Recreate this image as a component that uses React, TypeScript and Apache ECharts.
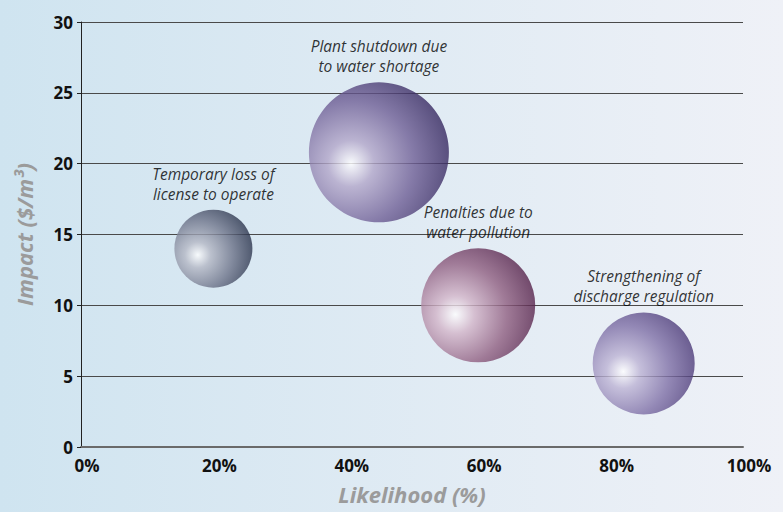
import React, { useEffect, useRef } from "react";
import * as echarts from "echarts";

const riskNames = [
  "Temporary loss of\nlicense to operate",
  "Plant shutdown due\nto water shortage",
  "Penalties due to\nwater pollution",
  "Strengthening of\ndischarge regulation",
];
const likelihood = [20, 45, 60, 85];
const impact = [14, 20.8, 10, 5.9];
const magnitude = [3.9, 7.0, 5.7, 5.1];
const xTicks = ["0%", "20%", "40%", "60%", "80%", "100%"];

const palette = [
  { light: "#b4b7c4", mid: "#6c7288", edge: "#222b44" },
  { light: "#b2a6c9", mid: "#6e5e95", edge: "#2e2058" },
  { light: "#d2b4c8", mid: "#8f5e80", edge: "#4e1a43" },
  { light: "#bcb3d4", mid: "#7e6fa6", edge: "#453372" },
];

export default function App() {
  const ref = useRef<HTMLDivElement>(null);
  useEffect(() => {
    if (!ref.current) return;
    const chart = echarts.init(ref.current, null, { renderer: "svg" });
    const data = likelihood.map((x, i) => ({
      value: [x, impact[i], magnitude[i]],
      name: riskNames[i],
      itemStyle: {
        color: new echarts.graphic.RadialGradient(0.3, 0.58, 0.75, [
          { offset: 0, color: "#ffffff" },
          { offset: 0.22, color: palette[i].light },
          { offset: 0.6, color: palette[i].mid },
          { offset: 1, color: palette[i].edge },
        ]),
      },
    }));
    const nameStyle = {
      fontFamily: "Open Sans",
      fontSize: 22,
      fontWeight: "bold",
      fontStyle: "italic",
      color: "#9b9b9b",
    };
    chart.setOption({
      animation: false,
      backgroundColor: new echarts.graphic.LinearGradient(0, 0, 1, 0, [
        { offset: 0, color: "#cfe4f0" },
        { offset: 1, color: "#eff1f7" },
      ]),
      grid: { left: 81, right: 40, top: 22, bottom: 65 },
      xAxis: {
        type: "value",
        min: 0,
        max: 100,
        interval: 20,
        name: "Likelihood (%)",
        nameLocation: "middle",
        nameGap: 36,
        nameTextStyle: nameStyle,
        axisLine: { show: true, lineStyle: { color: "#6a6a6a", width: 2 } },
        axisTick: { show: false },
        splitLine: { show: false },
        axisLabel: {
          formatter: (v: number) => xTicks[Math.round(v / 20)],
          fontFamily: "Open Sans",
          fontSize: 17,
          fontWeight: "bold",
          color: "#111",
          margin: 10,
          padding: [0, 0, 0, 12],
        },
      },
      yAxis: {
        type: "value",
        min: 0,
        max: 30,
        interval: 5,
        name: "Impact ($/m³)",
        nameLocation: "middle",
        nameGap: 46,
        nameTextStyle: nameStyle,
        axisLine: { show: true, lineStyle: { color: "#222", width: 1 } },
        axisTick: { show: true, length: 4, lineStyle: { color: "#222" } },
        splitLine: { show: true, lineStyle: { color: "#4a4a4a", width: 1 } },
        axisLabel: {
          fontFamily: "Open Sans",
          fontSize: 17,
          fontWeight: "bold",
          color: "#111",
          margin: 8,
        },
      },
      series: [
        {
          type: "scatter",
          data,
          symbolSize: (v: number[]) => v[2] * 20,
          label: {
            show: true,
            position: "top",
            distance: 6,
            formatter: (p: any) => p.name,
            fontFamily: "Open Sans",
            fontSize: 15.5,
            fontStyle: "italic",
            color: "#000",
            lineHeight: 20,
            align: "center",
          },
        },
      ],
    });
    return () => chart.dispose();
  }, []);
  return (
    <div
      style={{ position: "fixed", left: 0, top: 0, width: 783, height: 512 }}
    >
      <div ref={ref} style={{ width: 783, height: 512 }} />
    </div>
  );
}
